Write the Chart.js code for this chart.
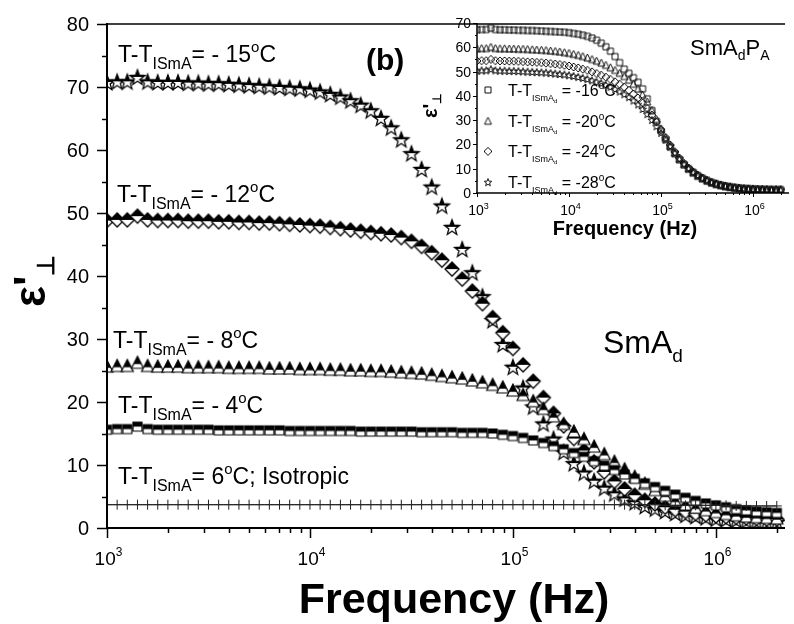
<!DOCTYPE html>
<html>
<head>
<meta charset="utf-8">
<script src="https://cdn.jsdelivr.net/npm/chart.js@4.4.0/dist/chart.umd.min.js"></script>
<style>
  html, body { margin: 0; padding: 0; background: #fff; }
  #wrap { position: relative; width: 794px; height: 624px; }
  #mainChart { position: absolute; left: 0; top: 0; }
  #insetChart { position: absolute; left: 380px; top: 0; }
</style>
</head>
<body>
<div id="wrap">
  <canvas id="mainChart" width="794" height="624"></canvas>
  <canvas id="insetChart" width="414" height="250"></canvas>
</div>
<script>
'use strict';

const FONT = '"Liberation Sans", Arial, sans-serif';

// measuring frequencies (Hz)
const freq = [
  1000, 1122, 1259, 1413, 1585, 1778, 1995, 2239, 2512, 2818,
  3162, 3548, 3981, 4467, 5012, 5623, 6310, 7079, 7943, 8913,
  10000, 11220, 12589, 14125, 15849, 17783, 19953, 22387, 25119, 28184,
  31623, 35481, 39811, 44668, 50119, 56234, 63096, 70795, 79433, 89125,
  100000, 112202, 125893, 141254, 158489, 177828, 199526, 223872, 251189, 281838,
  316228, 354813, 398107, 446684, 501187, 562341, 630957, 707946, 794328, 891251,
  1000000, 1122018, 1258925, 1412538, 1584893, 1778279, 1995262
];

// main panel: T - T_ISmA
const iso6 = [
  3.7, 3.7, 3.7, 3.7, 3.7, 3.7, 3.7, 3.7, 3.7, 3.7,
  3.7, 3.7, 3.7, 3.7, 3.7, 3.7, 3.7, 3.7, 3.7, 3.7,
  3.7, 3.7, 3.7, 3.7, 3.7, 3.7, 3.7, 3.7, 3.7, 3.7,
  3.7, 3.7, 3.7, 3.7, 3.7, 3.7, 3.7, 3.7, 3.7, 3.7,
  3.7, 3.7, 3.7, 3.7, 3.7, 3.7, 3.7, 3.7, 3.7, 3.7,
  3.7, 3.7, 3.7, 3.7, 3.7, 3.6, 3.6, 3.6, 3.6, 3.6,
  3.6, 3.6, 3.5, 3.5, 3.5, 3.5, 3.5
];
const minus4 = [
  15.6, 15.7, 15.7, 16.1, 15.7, 15.6, 15.6, 15.6, 15.6, 15.6,
  15.6, 15.5, 15.5, 15.5, 15.5, 15.5, 15.5, 15.5, 15.4, 15.4,
  15.4, 15.4, 15.4, 15.4, 15.4, 15.3, 15.3, 15.3, 15.3, 15.3,
  15.3, 15.2, 15.2, 15.2, 15.2, 15.1, 15.1, 15.1, 15.0, 14.8,
  14.6, 14.3, 13.9, 13.5, 13.0, 12.5, 11.9, 11.3, 10.6, 9.9,
  9.2, 8.5, 7.8, 7.1, 6.5, 5.9, 5.3, 4.8, 4.3, 3.9,
  3.6, 3.3, 3.0, 2.8, 2.6, 2.5, 2.4
];
const minus8 = [
  25.7, 25.8, 25.8, 26.3, 25.8, 25.7, 25.7, 25.7, 25.6, 25.6,
  25.6, 25.6, 25.5, 25.5, 25.5, 25.5, 25.4, 25.4, 25.4, 25.3,
  25.3, 25.3, 25.2, 25.2, 25.1, 25.1, 25.0, 25.0, 24.9, 24.8,
  24.7, 24.6, 24.4, 24.2, 24.0, 23.8, 23.5, 23.2, 22.8, 22.4,
  21.9, 21.2, 20.2, 19.0, 17.8, 16.6, 15.4, 14.2, 13.0, 11.8,
  10.6, 9.4, 8.2, 7.1, 6.1, 5.2, 4.4, 3.8, 3.3, 2.9,
  2.6, 2.3, 2.1, 1.9, 1.8, 1.7, 1.6
];
const minus12 = [
  48.8, 48.9, 48.9, 49.5, 48.9, 48.8, 48.8, 48.8, 48.7, 48.7,
  48.7, 48.6, 48.6, 48.5, 48.5, 48.4, 48.4, 48.3, 48.2, 48.1,
  48.0, 47.9, 47.7, 47.5, 47.3, 47.1, 46.9, 46.7, 46.5, 46.1,
  45.5, 44.7, 43.7, 42.5, 41.1, 39.5, 37.6, 35.6, 33.4, 31.0,
  28.5, 25.9, 23.3, 20.7, 18.2, 16.2, 14.2, 12.3, 10.5, 8.9,
  7.4, 6.2, 5.2, 4.4, 3.8, 3.3, 2.9, 2.6, 2.3, 2.1,
  1.9, 1.8, 1.7, 1.6, 1.5, 1.4, 1.4
];
const minus15 = [
  70.8, 70.9, 70.9, 71.6, 70.9, 70.8, 70.8, 70.8, 70.7, 70.7,
  70.6, 70.6, 70.5, 70.4, 70.3, 70.2, 70.1, 70.0, 69.9, 69.8,
  69.6, 69.3, 68.9, 68.5, 67.9, 67.2, 66.3, 65.1, 63.6, 61.7,
  59.5, 57.0, 54.2, 51.2, 47.8, 44.3, 40.6, 36.8, 33.0, 29.2,
  25.6, 22.3, 19.3, 16.6, 14.2, 12.1, 10.3, 8.8, 7.5, 6.4,
  5.5, 4.7, 4.1, 3.5, 3.1, 2.7, 2.4, 2.1, 1.9, 1.7,
  1.5, 1.4, 1.3, 1.2, 1.1, 1.0, 1.0
];

// inset: SmAdPA, T - T_ISmAd
const inset16 = [
  67.2, 67.3, 67.3, 67.9, 67.3, 67.2, 67.2, 67.1, 67.1, 67.0,
  67.0, 66.9, 66.9, 66.8, 66.7, 66.6, 66.5, 66.4, 66.3, 66.2,
  66.0, 65.7, 65.4, 65.0, 64.5, 63.8, 62.9, 61.7, 60.2, 58.4,
  56.2, 53.7, 51.0, 49.3, 47.5, 45.6, 42.9, 38.8, 34.0, 29.5,
  25.5, 22.0, 18.9, 16.2, 13.8, 11.8, 10.0, 8.5, 7.2, 6.1,
  5.2, 4.4, 3.8, 3.3, 2.9, 2.6, 2.3, 2.1, 1.9, 1.8,
  1.7, 1.6, 1.5, 1.5, 1.4, 1.4, 1.4
];
const inset20 = [
  59.6, 59.7, 59.7, 60.2, 59.7, 59.6, 59.6, 59.5, 59.5, 59.4,
  59.4, 59.3, 59.2, 59.1, 59.0, 58.9, 58.7, 58.5, 58.3, 58.0,
  57.7, 57.3, 56.9, 56.4, 55.8, 55.2, 54.5, 53.7, 52.8, 51.8,
  50.7, 49.5, 48.2, 46.7, 45.0, 43.0, 40.6, 37.7, 34.2, 30.5,
  26.6, 22.9, 19.6, 16.6, 14.0, 11.8, 10.0, 8.4, 7.1, 6.0,
  5.1, 4.3, 3.7, 3.2, 2.8, 2.5, 2.2, 2.0, 1.8, 1.7,
  1.6, 1.5, 1.5, 1.4, 1.4, 1.3, 1.3
];
const inset24 = [
  54.4, 54.5, 54.5, 55.0, 54.5, 54.4, 54.4, 54.3, 54.3, 54.2,
  54.1, 54.0, 53.9, 53.8, 53.7, 53.5, 53.3, 53.1, 52.9, 52.6,
  52.3, 51.9, 51.5, 51.0, 50.5, 49.9, 49.2, 48.5, 47.7, 46.8,
  45.8, 44.8, 43.6, 42.3, 40.8, 39.1, 37.1, 34.8, 32.1, 29.2,
  26.1, 22.9, 19.8, 17.0, 14.4, 12.2, 10.3, 8.7, 7.3, 6.2,
  5.2, 4.4, 3.8, 3.2, 2.8, 2.5, 2.2, 2.0, 1.8, 1.7,
  1.6, 1.5, 1.5, 1.4, 1.4, 1.4, 1.4
];
const inset28 = [
  50.4, 50.5, 50.5, 51.0, 50.5, 50.4, 50.4, 50.3, 50.3, 50.2,
  50.1, 50.0, 49.9, 49.8, 49.7, 49.6, 49.4, 49.2, 49.0, 48.8,
  48.5, 48.2, 47.8, 47.4, 46.9, 46.4, 45.8, 45.2, 44.5, 43.7,
  42.8, 41.8, 40.7, 39.5, 38.1, 36.5, 34.6, 32.5, 30.1, 27.5,
  24.8, 22.0, 19.2, 16.6, 14.2, 12.1, 10.3, 8.7, 7.4, 6.3,
  5.3, 4.5, 3.9, 3.4, 3.0, 2.6, 2.3, 2.1, 1.9, 1.8,
  1.7, 1.6, 1.5, 1.5, 1.4, 1.4, 1.4
];

const mainYTicks = [0, 10, 20, 30, 40, 50, 60, 70, 80];
const insetYTicks = [0, 10, 20, 30, 40, 50, 60, 70];
const xDecades = [3, 4, 5, 6];
const insetLabels = ['-16', '-20', '-24', '-28'];

function pts(vals) {
  return vals.map((v, i) => ({ x: freq[i], y: v }));
}

// --- symbols (half filled like Origin "half up") ---
function shapePath(ctx, shape, c, s) {
  const h = s / 2;
  ctx.beginPath();
  if (shape === 'square') {
    ctx.rect(c - h, c - h, s, s);
  } else if (shape === 'diamond') {
    ctx.moveTo(c, c - h); ctx.lineTo(c + h, c); ctx.lineTo(c, c + h); ctx.lineTo(c - h, c);
    ctx.closePath();
  } else if (shape === 'triangle') {
    ctx.moveTo(c, c - h); ctx.lineTo(c + h, c + h); ctx.lineTo(c - h, c + h);
    ctx.closePath();
  } else if (shape === 'star') {
    for (let i = 0; i < 10; i++) {
      let r = i % 2 === 0 ? h : h * 0.42;
      let a = -Math.PI / 2 + i * Math.PI / 5;
      let px = c + r * Math.cos(a), py = c + 0.06 * s + r * Math.sin(a);
      if (i === 0) ctx.moveTo(px, py); else ctx.lineTo(px, py);
    }
    ctx.closePath();
  }
}

function makeSymbol(shape, s, half, color, lw) {
  const cv = document.createElement('canvas');
  const w = Math.ceil(s) + 4;
  cv.width = w; cv.height = w;
  const ctx = cv.getContext('2d');
  const c = w / 2;
  ctx.lineWidth = lw;
  ctx.lineJoin = 'miter';
  ctx.strokeStyle = color;
  shapePath(ctx, shape, c, s);
  if (half) {
    ctx.fillStyle = '#fff';
    ctx.fill();
    ctx.save();
    ctx.beginPath();
    ctx.rect(0, 0, w, shape === 'triangle' ? c + s * 0.15 : c);
    ctx.clip();
    shapePath(ctx, shape, c, s);
    ctx.fillStyle = color;
    ctx.fill();
    ctx.restore();
    shapePath(ctx, shape, c, s);
  }
  ctx.stroke();
  return cv;
}

const symStar = makeSymbol('star', 16, true, '#000', 1.3);
const symDiamond = makeSymbol('diamond', 14, true, '#000', 1.3);
const symTriangle = makeSymbol('triangle', 12, true, '#000', 1.2);
const symSquare = makeSymbol('square', 9, true, '#000', 1.2);

const inSquare = makeSymbol('square', 6, false, '#111', 1);
const inTriangle = makeSymbol('triangle', 7, false, '#111', 1);
const inDiamond = makeSymbol('diamond', 8, false, '#111', 1);
const inStar = makeSymbol('star', 8, false, '#111', 1);

// --- text helpers ---
function richText(ctx, x, y, parts, align) {
  let w = 0;
  parts.forEach(p => {
    ctx.font = (p[3] ? 'bold ' : '') + p[1] + 'px ' + FONT;
    w += ctx.measureText(p[0]).width;
  });
  let cx = x;
  if (align === 'center') cx = x - w / 2;
  if (align === 'right') cx = x - w;
  ctx.textAlign = 'left';
  ctx.textBaseline = 'alphabetic';
  parts.forEach(p => {
    ctx.font = (p[3] ? 'bold ' : '') + p[1] + 'px ' + FONT;
    ctx.fillText(p[0], cx, y + (p[2] || 0));
    cx += ctx.measureText(p[0]).width;
  });
}

function line(ctx, x1, y1, x2, y2) {
  ctx.beginPath(); ctx.moveTo(x1, y1); ctx.lineTo(x2, y2); ctx.stroke();
}

function minorFreqs(maxF) {
  let out = [];
  for (let d = 1000; d < maxF; d *= 10) {
    for (let m = 2; m <= 9; m++) if (d * m <= maxF) out.push(d * m);
  }
  return out;
}

const mainDecor = {
  id: 'mainDecor',
  afterDraw(chart) {
    const ctx = chart.ctx;
    const a = chart.chartArea;
    const xs = chart.scales.x, ys = chart.scales.y;
    ctx.save();
    ctx.strokeStyle = '#000';
    ctx.fillStyle = '#000';
    ctx.lineWidth = 2;
    line(ctx, a.left, a.top - 1, a.left, a.bottom + 1);
    line(ctx, a.left - 1, a.bottom, a.right, a.bottom);
    ctx.lineWidth = 1.5;
    line(ctx, a.left, a.top, a.right, a.top);

    // y ticks
    ctx.lineWidth = 1.5;
    mainYTicks.forEach(v => {
      let y = Math.round(ys.getPixelForValue(v)) + 0.5;
      line(ctx, a.left - 10, y, a.left, y);
      ctx.font = '20px ' + FONT;
      ctx.textAlign = 'right';
      ctx.textBaseline = 'middle';
      ctx.fillText(String(v), 89, y + 1);
      if (v < 80) {
        let ym = Math.round(ys.getPixelForValue(v + 5)) + 0.5;
        line(ctx, a.left - 5, ym, a.left, ym);
      }
    });
    // x ticks
    xDecades.forEach(e => {
      let x = Math.round(xs.getPixelForValue(Math.pow(10, e))) + 0.5;
      line(ctx, x, a.bottom, x, a.bottom + 10);
      richText(ctx, x + 1, 565, [['10', 19, 0], [String(e), 12, -9]], 'center');
    });
    minorFreqs(2.1e6).forEach(f => {
      let x = Math.round(xs.getPixelForValue(f)) + 0.5;
      line(ctx, x, a.bottom, x, a.bottom + 5);
    });

    // axis titles
    ctx.font = 'bold 43px ' + FONT;
    ctx.textAlign = 'center';
    ctx.textBaseline = 'alphabetic';
    ctx.fillText('Frequency (Hz)', 454, 613);

    ctx.save();
    ctx.translate(45, 307);
    ctx.rotate(-Math.PI / 2);
    richText(ctx, 0, 0, [['\u03b5', 44, 0, true], ["'", 44, 0, true], ['\u22a5', 24, 9, true]], 'left');
    ctx.restore();

    // annotations
    const lab = (x, y, val) => richText(ctx, x, y, [
      ['T-T', 23, 0], ['ISmA', 16, 7], ['= ' + val, 23, 0], ['o', 15, -10], ['C', 23, 0]
    ]);
    lab(118, 62, '- 15');
    lab(117, 202, '- 12');
    lab(113, 348, '- 8');
    lab(118, 413, '- 4');
    richText(ctx, 118, 484, [
      ['T-T', 23, 0], ['ISmA', 16, 7], ['= 6', 23, 0], ['o', 15, -10], ['C; Isotropic', 23, 0]
    ]);
    richText(ctx, 366, 70, [['(b)', 30, 0, true]]);
    richText(ctx, 603, 353, [['SmA', 32, 0], ['d', 19, 9]]);
    ctx.restore();
  }
};

const insetDecor = {
  id: 'insetDecor',
  afterDraw(chart) {
    const ctx = chart.ctx;
    const a = chart.chartArea;
    const xs = chart.scales.x, ys = chart.scales.y;
    ctx.save();
    ctx.strokeStyle = '#000';
    ctx.fillStyle = '#000';
    ctx.lineWidth = 1.5;
    line(ctx, a.left, a.top, a.left, a.bottom + 1);
    line(ctx, a.left - 1, a.bottom, a.right, a.bottom);
    ctx.lineWidth = 1;
    insetYTicks.forEach(v => {
      let y = Math.round(ys.getPixelForValue(v)) + 0.5;
      line(ctx, a.left - 4, y, a.left, y);
      ctx.font = '14px ' + FONT;
      ctx.textAlign = 'right';
      ctx.textBaseline = 'middle';
      ctx.fillText(String(v), a.left - 6, y + 1);
      if (v < 70) {
        let ym = Math.round(ys.getPixelForValue(v + 5)) + 0.5;
        line(ctx, a.left - 2, ym, a.left, ym);
      }
    });
    xDecades.forEach(e => {
      let x = Math.round(xs.getPixelForValue(Math.pow(10, e))) + 0.5;
      line(ctx, x, a.bottom, x, a.bottom + 4);
      richText(ctx, x + 1, 215, [['10', 14, 0], [String(e), 9, -6]], 'center');
    });
    minorFreqs(2.4e6).forEach(f => {
      let x = Math.round(xs.getPixelForValue(f)) + 0.5;
      line(ctx, x, a.bottom, x, a.bottom + 2);
    });

    ctx.font = 'bold 20px ' + FONT;
    ctx.textAlign = 'center';
    ctx.textBaseline = 'alphabetic';
    ctx.fillText('Frequency (Hz)', 245, 235);

    ctx.save();
    ctx.translate(57, 118);
    ctx.rotate(-Math.PI / 2);
    richText(ctx, 0, 0, [['\u03b5', 20, 0, true], ["'", 20, 0, true], ['\u22a5', 12, 4, true]], 'left');
    ctx.restore();

    richText(ctx, 310, 55, [['SmA', 22, 0], ['d', 14, 5], ['P', 22, 0], ['A', 14, 5]]);

    // legend
    const syms = [inSquare, inTriangle, inDiamond, inStar];
    syms.forEach((s, i) => {
      let cy = 90 + i * 30.7;
      ctx.drawImage(s, 108 - s.width / 2, cy - s.height / 2);
      richText(ctx, 128, cy + 6, [
        ['T-T', 16, 0], ['ISmA', 9, 5], ['d', 6, 7], [' = ' + insetLabels[i], 16, 0], ['o', 10, -7], ['C', 16, 0]
      ]);
    });
    ctx.restore();
  }
};

function baseOptions(xMax, yMax, padTop, yWidth, xHeight) {
  return {
    responsive: false,
    animation: false,
    devicePixelRatio: 1,
    layout: { padding: { top: padTop, right: 0, left: 0, bottom: 0 } },
    plugins: { legend: { display: false }, tooltip: { enabled: false } },
    scales: {
      x: {
        type: 'logarithmic', min: 1000, max: xMax,
        ticks: { display: false }, grid: { display: false }, border: { display: false },
        afterFit: s => { s.height = xHeight; }
      },
      y: {
        min: 0, max: yMax,
        ticks: { display: false }, grid: { display: false }, border: { display: false },
        afterFit: s => { s.width = yWidth; }
      }
    }
  };
}

// first dataset is drawn on top
new Chart(document.getElementById('mainChart'), {
  type: 'scatter',
  data: {
    datasets: [
      { data: pts(iso6), showLine: true, borderColor: '#222', borderWidth: 1,
        pointStyle: 'cross', pointRadius: 5, pointBorderColor: '#222', pointBorderWidth: 1, clip: 0 },
      { data: pts(minus4), pointStyle: symSquare, pointRadius: 5, clip: 0 },
      { data: pts(minus8), pointStyle: symTriangle, pointRadius: 6, clip: 0 },
      { data: pts(minus12), pointStyle: symDiamond, pointRadius: 7, clip: 0 },
      { data: pts(minus15), pointStyle: symStar, pointRadius: 8, clip: 0 }
    ]
  },
  options: baseOptions(2.19e6, 80, 24, 107, 96),
  plugins: [mainDecor]
});

new Chart(document.getElementById('insetChart'), {
  type: 'scatter',
  data: {
    datasets: [
      { data: pts(inset16), pointStyle: inSquare, pointRadius: 4, clip: 0 },
      { data: pts(inset20), pointStyle: inTriangle, pointRadius: 4, clip: 0 },
      { data: pts(inset24), pointStyle: inDiamond, pointRadius: 4, clip: 0 },
      { data: pts(inset28), pointStyle: inStar, pointRadius: 4, clip: 0 }
    ]
  },
  options: baseOptions(2.46e6, 70, 23, 97, 57),
  plugins: [insetDecor]
});
</script>
</body>
</html>
